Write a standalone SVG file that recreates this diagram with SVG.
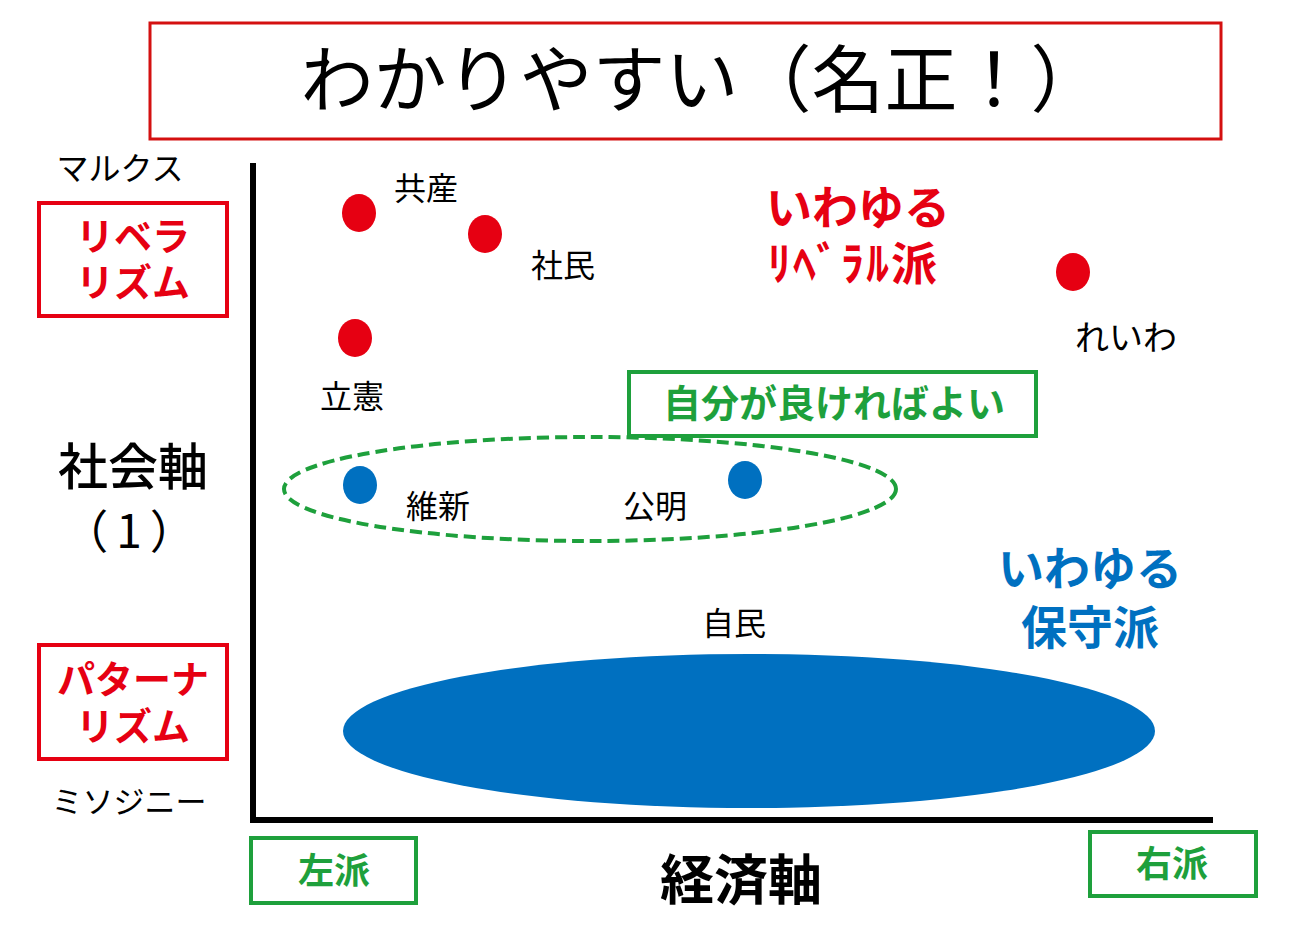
<svg xmlns="http://www.w3.org/2000/svg" width="1309" height="930" viewBox="0 0 1309 930">
<style>
.sans{font-family:"Noto Sans CJK JP","Liberation Sans",sans-serif}
.ls{font-family:"Liberation Sans","Noto Sans CJK JP",sans-serif}
.serif{font-family:"Liberation Serif","Noto Sans CJK JP",serif;font-size:32px;fill:#000}
.red{fill:#E60012;font-weight:bold}
.green{fill:#1EA03C;font-weight:bold}
.blue{fill:#0070C0;font-weight:bold}
.rbox{fill:#fff;stroke:#E60012;stroke-width:4}
.gbox{fill:#fff;stroke:#1EA03C;stroke-width:4}
.rdot{fill:#E60012}
.bdot{fill:#0070C0}
</style>
<rect width="1309" height="930" fill="#fff"/>
<g id="title">
<rect x="150" y="23" width="1071" height="116" fill="#fff" stroke="#D41010" stroke-width="3"/>
<text class="sans" x="702" y="106" font-size="73" text-anchor="middle">わかりやすい（名正！）</text>
</g>
<g id="axes">
<line x1="253" y1="163" x2="253" y2="823" stroke="#000" stroke-width="6"/>
<line x1="250" y1="820" x2="1213" y2="820" stroke="#000" stroke-width="6"/>
</g>
<g id="marx"><text class="sans" x="120" y="180" font-size="32" text-anchor="middle">マルクス</text></g>
<g id="liberalism">
<rect class="rbox" x="39" y="203" width="188" height="113"/>
<text class="ls red" font-size="38" text-anchor="middle"><tspan x="133" y="250">リベラ</tspan><tspan x="133" y="296">リズム</tspan></text>
</g>
<g id="social-axis">
<text class="sans" x="133" y="485" font-size="50" font-weight="500" text-anchor="middle">社会軸</text>
<text class="sans" x="133" y="548" font-size="46" text-anchor="middle" letter-spacing="8">（1）</text>
</g>
<g id="paternalism">
<rect class="rbox" x="39" y="645" width="188" height="114"/>
<text class="ls red" font-size="38" text-anchor="middle"><tspan x="133" y="693">パターナ</tspan><tspan x="133" y="740">リズム</tspan></text>
</g>
<g id="misogyny"><text class="sans" x="129" y="813" font-size="31" text-anchor="middle">ミソジニー</text></g>
<g id="left"><rect class="gbox" x="251" y="838" width="165" height="65"/><text class="sans green" x="334" y="884" font-size="36" text-anchor="middle">左派</text></g>
<g id="right"><rect class="gbox" x="1090" y="832" width="166" height="64"/><text class="sans green" x="1172" y="877" font-size="36" text-anchor="middle">右派</text></g>
<g id="econ-axis"><text class="sans" x="741" y="900" font-size="54" font-weight="bold" text-anchor="middle">経済軸</text></g>
<g id="selfish">
<rect class="gbox" x="629" y="372" width="407" height="64"/>
<text class="sans green" x="834" y="417" font-size="38" text-anchor="middle">自分が良ければよい</text>
</g>
<g id="connectors">
<ellipse cx="590" cy="489" rx="306" ry="52" fill="none" stroke="#1EA03C" stroke-width="4" stroke-dasharray="12 6"/>
</g>
<g id="ldp">
<ellipse class="bdot" cx="749" cy="731" rx="406" ry="77"/>
<text class="serif" x="734" y="635" text-anchor="middle">自民</text>
</g>
<g id="jcp"><ellipse class="rdot" cx="359" cy="213" rx="17" ry="19"/><text class="serif" x="426" y="200" text-anchor="middle">共産</text></g>
<g id="sdp"><ellipse class="rdot" cx="485" cy="234" rx="17" ry="19"/><text class="serif" x="563" y="277" text-anchor="middle">社民</text></g>
<g id="cdp"><ellipse class="rdot" cx="355" cy="338" rx="17" ry="19"/><text class="serif" x="352" y="408" text-anchor="middle">立憲</text></g>
<g id="reiwa"><ellipse class="rdot" cx="1073" cy="272" rx="17" ry="19"/><text class="sans" x="1126" y="350" font-size="34" text-anchor="middle">れいわ</text></g>
<g id="ishin"><ellipse class="bdot" cx="360" cy="485" rx="17" ry="19"/><text class="serif" x="438" y="518" text-anchor="middle">維新</text></g>
<g id="komei"><ellipse class="bdot" cx="745" cy="480" rx="17" ry="19"/><text class="serif" x="655" y="518" text-anchor="middle">公明</text></g>
<g id="liberal-label">
<text class="ls red" font-size="46"><tspan x="766" y="224">いわゆる</tspan><tspan x="768" y="280" letter-spacing="2">ﾘﾍﾞﾗﾙ派</tspan></text>
</g>
<g id="conservative-label">
<text class="ls blue" font-size="46" text-anchor="middle"><tspan x="1090" y="585">いわゆる</tspan><tspan x="1090" y="644">保守派</tspan></text>
</g>
</svg>
